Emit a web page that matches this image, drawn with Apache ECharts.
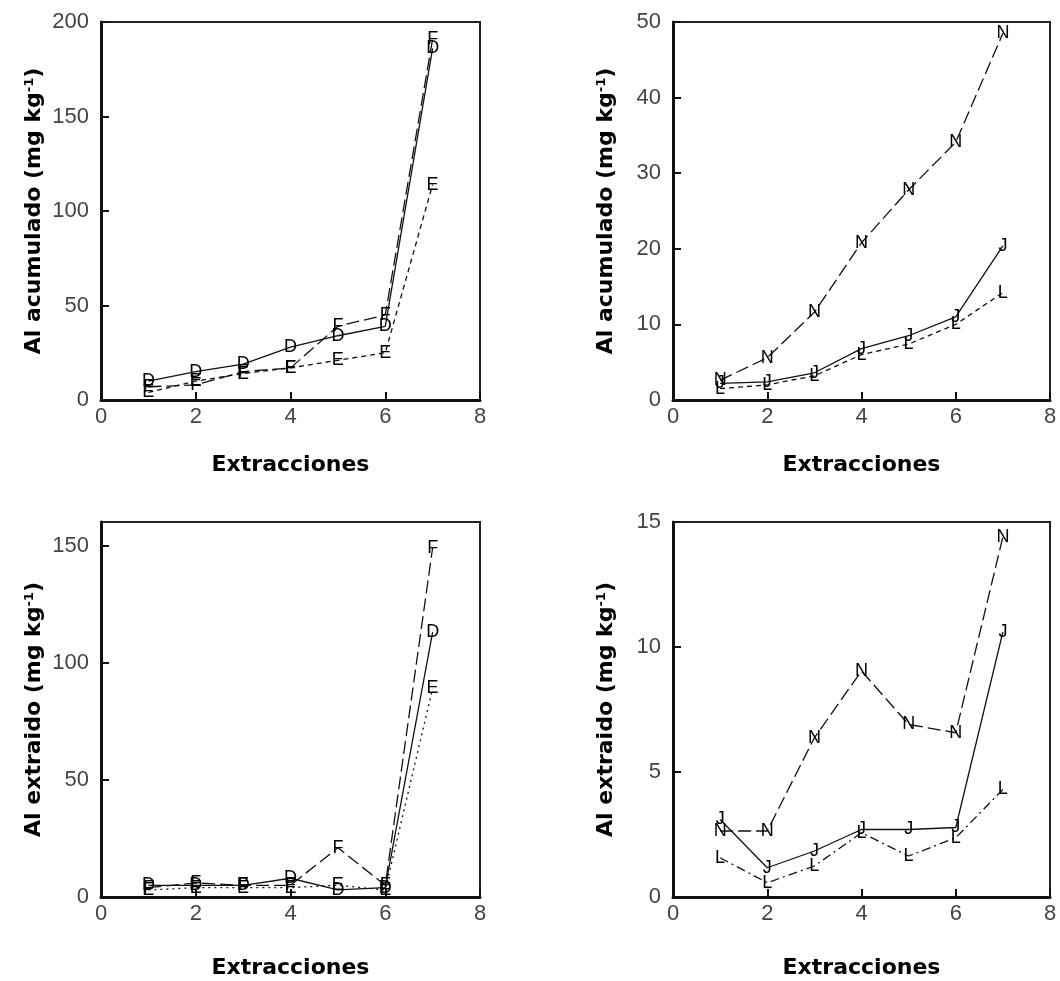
<!DOCTYPE html>
<html>
<head>
<meta charset="utf-8">
<script src="https://cdn.jsdelivr.net/npm/echarts@6/dist/echarts.min.js"></script>
<style>html,body{margin:0;padding:0;background:#fff}#c{width:1060px;height:981px}</style>
</head>
<body>
<div id="c"></div>
<script>
const extracciones = [1, 2, 3, 4, 5, 6, 7];
const xTicks = [0, 2, 4, 6, 8];

// Panel 1: Al acumulado (D, E, F)
const acumD = [10, 15, 19, 28, 34, 39, 186];
const acumE = [4, 10, 14, 17, 21, 25, 114];
const acumF = [7, 8, 15, 17, 39, 45, 191];
// Panel 2: Al acumulado (N, J, L)
const acumN = [2.6, 5.6, 11.6, 20.8, 27.8, 34.1, 48.5];
const acumJ = [2.2, 2.4, 3.6, 6.8, 8.5, 11.0, 20.4];
const acumL = [1.5, 2.0, 3.2, 6.0, 7.4, 10.0, 14.2];
// Panel 3: Al extraido (D, E, F)
const extD = [5, 5, 5, 8, 3, 4, 113];
const extE = [3, 4, 4, 4, 5, 3, 89];
const extF = [4, 6, 5, 5, 21, 5, 149];
// Panel 4: Al extraido (N, J, L)
const extN = [2.64, 2.64, 6.37, 9.04, 6.9, 6.57, 14.4];
const extJ = [3.1, 1.17, 1.84, 2.7, 2.7, 2.78, 10.6];
const extL = [1.57, 0.57, 1.24, 2.57, 1.64, 2.37, 4.3];

const DASH = {
  solid: 'solid',
  long: [13, 5],
  short: [5, 4],
  dot: [2, 4],
  dashdot: [9, 4, 2, 4]
};

function mk(letter, vals, dash, idx) {
  return {
    type: 'line',
    xAxisIndex: idx, yAxisIndex: idx,
    data: extracciones.map((x, i) => [x, vals[i]]),
    symbol: 'circle', symbolSize: 2, showSymbol: true,
    itemStyle: { color: 'transparent' },
    lineStyle: { color: '#111', width: 1.3, type: dash },
    label: {
      show: true, position: 'inside', formatter: letter,
      color: '#000', fontSize: 18, fontFamily: 'Liberation Sans, Arial, sans-serif'
    },
    emphasis: { disabled: true },
    z: 3
  };
}

const grids = [
  { left: 101, top: 22, width: 379, height: 378 },
  { left: 673, top: 22, width: 377, height: 378 },
  { left: 101, top: 522, width: 379, height: 375 },
  { left: 673, top: 522, width: 377, height: 375 }
].map(g => Object.assign(g, { show: true, borderColor: '#222', borderWidth: 2, backgroundColor: 'transparent' }));

const tickLabel = { color: '#444', fontSize: 22, fontFamily: 'Liberation Sans, Arial, sans-serif' };
const titleFont = { color: '#000', fontSize: 22, fontWeight: 'bold', fontFamily: 'DejaVu Sans' };

function xAx(idx, gap) {
  return {
    type: 'value', gridIndex: idx, min: 0, max: 8, interval: 2,
    name: 'Extracciones', nameLocation: 'middle', nameGap: gap,
    nameTextStyle: titleFont,
    axisLine: { show: true, lineStyle: { color: '#111', width: 3 } },
    axisTick: { show: true, inside: true, length: 8, lineStyle: { color: '#111', width: 2 } },
    axisLabel: Object.assign({ margin: 6 }, tickLabel),
    splitLine: { show: false }
  };
}
function yAx(idx, max, interval, title) {
  return {
    type: 'value', gridIndex: idx, min: 0, max: max, interval: interval,
    name: '{a|' + title + ' (mg kg}{s|-1}{a|)}', nameLocation: 'middle', nameGap: 56, nameRotate: 90,
    nameTextStyle: {
      rich: {
        a: titleFont,
        s: { color: '#000', fontSize: 13, fontWeight: 'bold', fontFamily: 'DejaVu Sans', verticalAlign: 'top', lineHeight: 12, padding: [0, 0, 10, 0] }
      }
    },
    axisLine: { show: true, lineStyle: { color: '#111', width: 3 } },
    axisTick: { show: true, inside: true, length: 8, lineStyle: { color: '#111', width: 2 } },
    axisLabel: Object.assign({ margin: 12, showMaxLabel: (max % interval === 0) }, tickLabel),
    splitLine: { show: false }
  };
}

const option = {
  animation: false,
  backgroundColor: '#fff',
  grid: grids,
  xAxis: [xAx(0, 54), xAx(1, 54), xAx(2, 60), xAx(3, 60)],
  yAxis: [
    yAx(0, 200, 50, 'Al acumulado'),
    yAx(1, 50, 10, 'Al acumulado'),
    yAx(2, 160, 50, 'Al extraido'),
    yAx(3, 15, 5, 'Al extraido')
  ],
  series: [
    mk('D', acumD, DASH.solid, 0),
    mk('E', acumE, DASH.short, 0),
    mk('F', acumF, DASH.long, 0),
    mk('N', acumN, DASH.long, 1),
    mk('J', acumJ, DASH.solid, 1),
    mk('L', acumL, DASH.short, 1),
    mk('D', extD, DASH.solid, 2),
    mk('E', extE, DASH.dot, 2),
    mk('F', extF, DASH.long, 2),
    mk('N', extN, DASH.long, 3),
    mk('J', extJ, DASH.solid, 3),
    mk('L', extL, DASH.dashdot, 3)
  ]
};

const chart = echarts.init(document.getElementById('c'), null, { renderer: 'canvas' });
chart.setOption(option);
</script>
</body>
</html>
